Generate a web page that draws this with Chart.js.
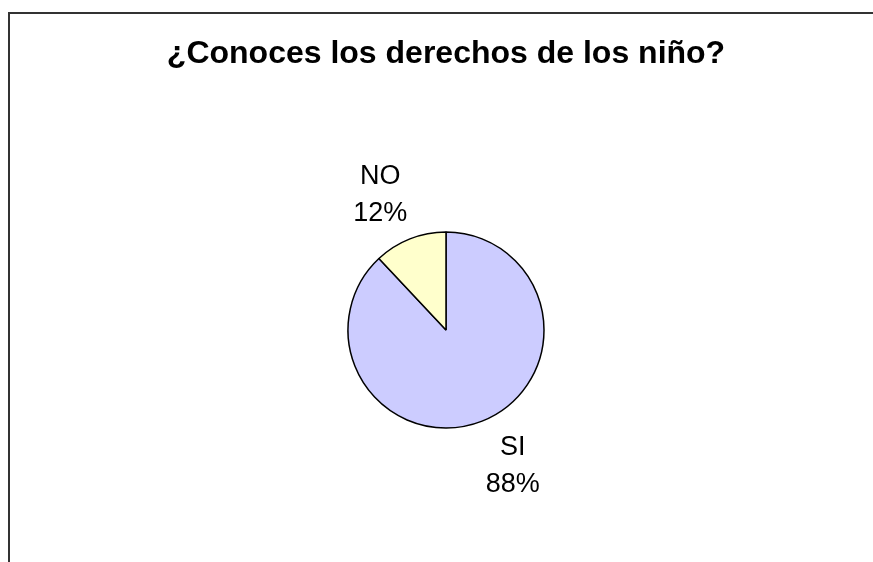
<!DOCTYPE html>
<html>
<head>
<meta charset="utf-8">
<script src="https://cdn.jsdelivr.net/npm/chart.js@4"></script>
<style>
  html, body { margin: 0; padding: 0; background: #fff; }
  #wrap { width: 873px; height: 562px; }
</style>
</head>
<body>
<div id="wrap"><canvas id="pieChart" width="873" height="562"></canvas></div>
<script>
const categories = ['SI', 'NO'];
const values = [88, 12];
const sliceColors = ['#CCCCFF', '#FFFFCC'];
const chartTitle = '¿Conoces los derechos de los niño?';

// frame around the chart (cut off at right and bottom, like the original)
const framePlugin = {
    id: 'frame',
    beforeDraw(chart) {
        const c = chart.ctx;
        c.save();
        c.strokeStyle = '#333';
        c.lineWidth = 2;
        c.strokeRect(9, 13, chart.width + 20, chart.height + 20);
        c.restore();
    }
};

// name + percentage outside each slice
const outsideLabels = {
    id: 'outsideLabels',
    afterDatasetsDraw(chart) {
        const c = chart.ctx;
        const meta = chart.getDatasetMeta(0);
        const total = values.reduce((a, b) => a + b, 0);
        c.save();
        c.font = '27px "Liberation Sans", Arial, sans-serif';
        c.fillStyle = '#000';
        c.textAlign = 'center';
        c.textBaseline = 'middle';
        meta.data.forEach(function (arc, i) {
            const mid = (arc.startAngle + arc.endAngle) / 2;
            const d = arc.outerRadius * 1.49;
            let x = arc.x + Math.cos(mid) * d;
            const y = arc.y + Math.sin(mid) * d;
            x += Math.cos(mid) >= 0 ? 13 : -12;
            const pct = Math.round(values[i] / total * 100) + '%';
            c.fillText(categories[i], x, y - 18);
            c.fillText(pct, x, y + 19);
        });
        c.restore();
    }
};

const ctx = document.getElementById('pieChart').getContext('2d');
const pieChart = new Chart(ctx, {
    type: 'pie',
    data: {
        labels: categories,
        datasets: [{
            data: values,
            backgroundColor: sliceColors,
            borderColor: '#000',
            borderWidth: 1.5,
            radius: 98
        }]
    },
    options: {
        responsive: false,
        animation: false,
        layout: {
            padding: { left: 19, right: 0, top: 0, bottom: 30 }
        },
        plugins: {
            legend: { display: false },
            tooltip: { enabled: false },
            title: {
                display: true,
                text: chartTitle,
                color: '#000',
                font: { family: '"Liberation Sans", Arial, sans-serif', size: 32, weight: 'bold', lineHeight: 1.2 },
                padding: { top: 35, bottom: 54.6 }
            }
        }
    },
    plugins: [framePlugin, outsideLabels]
});
</script>
</body>
</html>
